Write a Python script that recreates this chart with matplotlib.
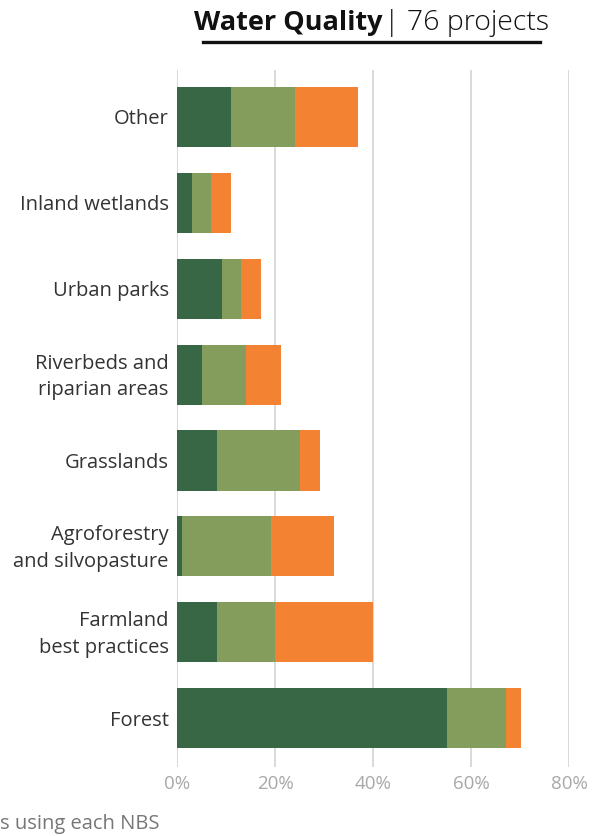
import matplotlib
matplotlib.use("Agg")
import matplotlib.pyplot as plt
from matplotlib.ticker import FuncFormatter
from matplotlib.transforms import ScaledTranslation

plt.rcParams['font.family'] = ['Open Sans', 'DejaVu Sans']

categories = ["Forest", "Farmland\nbest practices", "Agroforestry\nand silvopasture",
              "Grasslands", "Riverbeds and\nriparian areas", "Urban parks",
              "Inland wetlands", "Other"]
dark_share = [55.1, 8.2, 1.0, 8.2, 5.1, 9.2, 3.0, 11.0]
light_share = [12.0, 11.8, 18.2, 16.8, 9.0, 3.9, 4.0, 13.0]
orange_share = [3.1, 20.1, 12.8, 4.1, 7.1, 4.0, 4.0, 13.0]
x_ticks = [0, 20, 40, 60, 80]

c_dark = "#386745"
c_light = "#849d5c"
c_orange = "#f38233"

W, H = 600, 836
fig = plt.figure(figsize=(W / 100, H / 100), dpi=100)
ax = fig.add_axes([177 / W, (H - 767) / H, 392 / W, 697 / H])

ypos = list(range(len(categories)))
left2 = [d for d in dark_share]
left3 = [d + l for d, l in zip(dark_share, light_share)]
ax.barh(ypos, dark_share, height=0.70, color=c_dark, zorder=3)
ax.barh(ypos, light_share, left=left2, height=0.70, color=c_light, zorder=3)
ax.barh(ypos, orange_share, left=left3, height=0.70, color=c_orange, zorder=3)

ax.set_xlim(0, 80)
ax.set_ylim(-0.57, 7.547)
ax.set_xticks(x_ticks)
ax.xaxis.set_major_formatter(FuncFormatter(lambda v, p: f"{v:.0f}%"))
ax.set_yticks(ypos)
ax.set_yticklabels(categories, fontsize=14.5, color="#333333", linespacing=1.45)
ax.grid(axis="x", color="#d9d9d9", linewidth=1.4, zorder=0)
ax.tick_params(axis="x", length=0, pad=6, labelsize=13.5, labelcolor="#a8a8a8")
ax.tick_params(axis="y", length=0, pad=6)
for s in ax.spines.values():
    s.set_visible(False)

# Nudge two-line category labels up so they sit centred on their bars
nudge = ScaledTranslation(0, 3.5 / 100, fig.dpi_scale_trans)
for lbl in ax.get_yticklabels():
    if "\n" in lbl.get_text():
        lbl.set_transform(lbl.get_transform() + nudge)

# Title with bold topic and regular project count
fig.text(382 / W, 1 - 23 / H, "Water Quality", fontsize=19.5, fontweight="bold",
         ha="right", va="center", color="#111111")
fig.text(384 / W, 1 - 23 / H, "| 76 projects", fontsize=20.5, fontweight="light",
         ha="left", va="center", color="#111111")
fig.add_artist(plt.Line2D([203 / W, 540 / W], [1 - 42 / H, 1 - 42 / H],
                          color="#111111", linewidth=2.4))

fig.text(160 / W, 1 - 824 / H, "% of projects using each NBS", fontsize=14.5,
         ha="right", va="center", color="#777777")

fig.savefig("out.png", dpi=100)
